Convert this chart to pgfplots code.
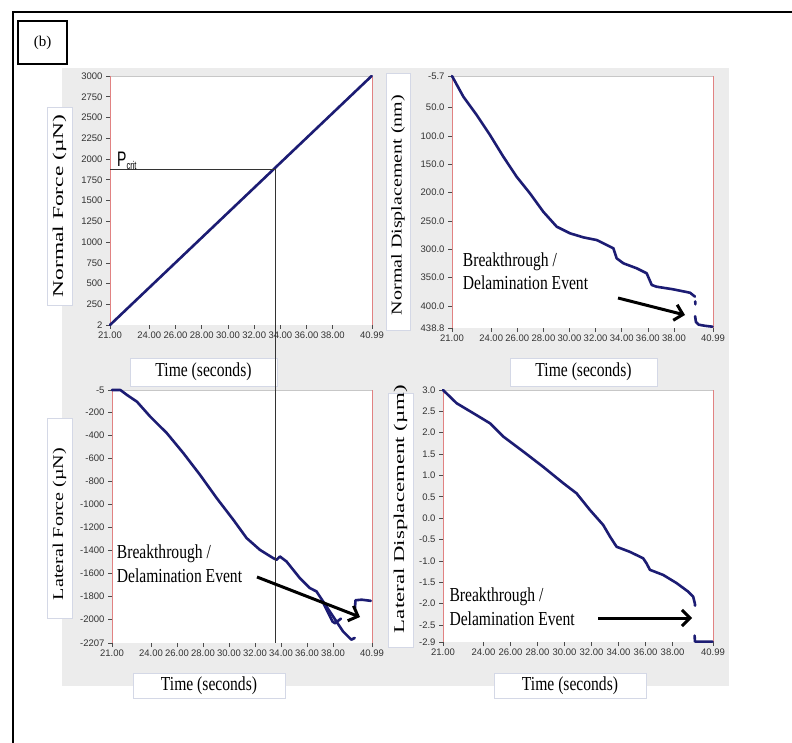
\documentclass[border=0pt]{standalone}
\usepackage{fontspec}
\setmainfont{Liberation Serif}
\newfontfamily\sansf{Liberation Sans}
\usepackage{graphicx}
\usepackage{pgfplots}
\pgfplotsset{compat=1.18}
\usetikzlibrary{arrows.meta}

\definecolor{navy}{RGB}{28,28,115}
\definecolor{axred}{RGB}{225,130,130}
\definecolor{panelgray}{RGB}{236,236,236}
\definecolor{boxedge}{RGB}{212,216,230}

\newcommand{\htext}[1]{\scalebox{1}[1.27]{\fontsize{15.6}{18}\selectfont #1}}
\newcommand{\vtext}[2]{\resizebox{#1}{\height}{\fontsize{15}{18}\selectfont #2}}

\pgfplotsset{
  panel/.style={
    scale only axis,
    anchor=south west,
    enlargelimits=false,
    clip=false,
    axis background/.style={fill=white},
    axis line style={draw=none},
    tick align=outside,
    major tick length=4pt,
    tick style={black!70, line width=0.7pt},
    xtick pos=bottom, ytick pos=left,
    xmin=21, xmax=40.99,
    xtick={21,24,26,28,30,32,34,36,38,40.99},
    xticklabels={21.00,24.00,26.00,28.00,30.00,32.00,34.00,36.00,38.00,40.99},
    ticklabel style={font=\sansf\fontsize{9.5}{10}\selectfont, text=black!80},
    xticklabel style={yshift=1pt},
    /pgf/number format/assume math mode=true,
  },
  curve/.style={navy, line width=2.6pt, line join=round, line cap=round},
}
\newcommand{\panelframe}{%
  \draw[black!22, line width=0.6pt] (rel axis cs:0,1) -- (rel axis cs:1,1);
  \draw[axred, line width=0.8pt] (rel axis cs:0,0) -- (rel axis cs:0,1);
  \draw[axred, line width=0.8pt] (rel axis cs:1,0) -- (rel axis cs:1,1);
}
\tikzset{lbox/.style={fill=white, draw=boxedge, line width=0.6pt},
  arr/.style={line width=3pt, -{Straight Barb[length=8pt,width=16pt,line width=3pt]}}}

\begin{document}
\begin{tikzpicture}
\useasboundingbox (0pt,0pt) rectangle (792pt,742pt);
\fill[white] (0pt,0pt) rectangle (792pt,742pt);
% grey panel
\fill[panelgray] (62pt,56pt) rectangle (729pt,674pt);
% label boxes
\filldraw[lbox] (47pt,437pt) rectangle (72pt,635pt);
\filldraw[lbox] (130pt,356pt) rectangle (277pt,384pt);
\filldraw[lbox] (386pt,412pt) rectangle (410pt,669pt);
\filldraw[lbox] (510pt,356pt) rectangle (657pt,384pt);
\filldraw[lbox] (47pt,124pt) rectangle (72pt,324pt);
\filldraw[lbox] (133pt,44pt) rectangle (285pt,69pt);
\filldraw[lbox] (388pt,95pt) rectangle (413pt,349pt);
\filldraw[lbox] (494pt,44pt) rectangle (646pt,69pt);

\node[rotate=90] at (59.5pt,536pt) {\vtext{183pt}{Normal Force (µN)}};
\node at (203.5pt,370pt) {\htext{Time (seconds)}};
\node[rotate=90] at (398pt,537pt) {\vtext{220pt}{Normal Displacement (nm)}};
\node at (583.5pt,370pt) {\htext{Time (seconds)}};
\node[rotate=90] at (59.5pt,218pt) {\vtext{152pt}{Lateral Force (µN)}};
\node at (209pt,56.5pt) {\htext{Time (seconds)}};
\node[rotate=90] at (400.5pt,233pt) {\vtext{248pt}{Lateral Displacement (µm)}};
\node at (570pt,56.5pt) {\htext{Time (seconds)}};

% ---------- top left: normal force ----------
\begin{axis}[panel, at={(110pt,417pt)}, width=262pt, height=249pt,
  ymin=2, ymax=3000,
  ytick={2,250,500,750,1000,1250,1500,1750,2000,2250,2500,2750,3000},
  yticklabels={2,250,500,750,1000,1250,1500,1750,2000,2250,2500,2750,3000}]
\panelframe
\addplot[curve] coordinates {(21,2) (40.96,3000)};
\draw[black!80, line width=0.8pt] (axis cs:21,1870) -- (axis cs:33.6,1870) -- (axis cs:33.6,2);
\coordinate (pc) at (axis cs:33.6,1870);
\end{axis}

% ---------- top right: normal displacement ----------
\begin{axis}[panel, at={(452pt,414pt)}, width=261pt, height=252pt,
  y dir=reverse, ymin=-5.7, ymax=438.8,
  ytick={-5.7,50,100,150,200,250,300,350,400,438.8},
  yticklabels={-5.7,50.0,100.0,150.0,200.0,250.0,300.0,350.0,400.0,438.8}]
\panelframe
\addplot[curve] coordinates {
(21.00,-5.7) (21.87,30.8) (22.89,63.1) (23.91,98.4) (24.93,136.6) (25.95,172)
(26.97,201.3) (27.99,233.7) (29.02,260.1) (30.04,271.8) (31.06,278.9) (32.08,283.6)
(32.85,292.4) (33.36,298.2) (33.61,315.9) (34.13,324.7) (35.15,333.5) (35.91,342.3)
(36.30,363) (36.68,366) (37.95,370.6) (39.23,376.6) (39.61,383.5)};
\addplot[curve] coordinates {(39.63,392) (39.64,397)};
\addplot[curve] coordinates {(39.62,418) (39.68,428) (39.9,433) (40.4,435) (40.95,436.5)};
\end{axis}

% ---------- bottom left: lateral force ----------
\begin{axis}[panel, at={(112pt,99pt)}, width=260pt, height=253pt,
  ymin=-2207, ymax=-5,
  ytick={-2207,-2000,-1800,-1600,-1400,-1200,-1000,-800,-600,-400,-200,-5},
  yticklabels={-2207,-2000,-1800,-1600,-1400,-1200,-1000,-800,-600,-400,-200,-5}]
\panelframe
\addplot[curve] coordinates {
(21.00,-5) (21.64,-5) (22.15,-48) (22.92,-107) (23.94,-237) (25.22,-381)
(26.49,-555) (27.77,-744) (29.05,-946) (30.33,-1135) (31.35,-1294) (32.37,-1396)
(33.39,-1468) (33.65,-1483) (33.91,-1454) (34.42,-1498) (35.44,-1642) (36.21,-1729)
(36.72,-1758) (37.23,-1845) (38.00,-1976) (38.76,-2106) (39.40,-2178) (39.66,-2163)};
\addplot[curve] coordinates {(37.25,-1860) (37.95,-2020) (38.15,-2035) (38.6,-1995)};
\addplot[curve] coordinates {(39.68,-1905) (39.72,-1835) (40.2,-1830) (40.9,-1840)};
\coordinate (pb) at (axis cs:33.52,-2207);
\end{axis}

% ---------- bottom right: lateral displacement ----------
\begin{axis}[panel, at={(443pt,100pt)}, width=270pt, height=252pt,
  ymin=-2.9, ymax=3.0,
  ytick={-2.9,-2.5,-2,-1.5,-1,-0.5,0,0.5,1,1.5,2,2.5,3},
  yticklabels={-2.9,-2.5,-2.0,-1.5,-1.0,-0.5,0.0,0.5,1.0,1.5,2.0,2.5,3.0}]
\panelframe
\addplot[curve] coordinates {
(21.00,3.00) (22.01,2.69) (23.49,2.41) (24.48,2.22) (25.46,1.91) (26.94,1.56)
(28.42,1.20) (29.90,0.82) (30.89,0.58) (31.88,0.19) (32.86,-0.16) (33.36,-0.43)
(33.85,-0.67) (34.84,-0.79) (35.82,-0.94) (36.07,-1.06) (36.32,-1.21) (37.30,-1.33)
(38.29,-1.52) (39.15,-1.72) (39.52,-1.84) (39.65,-2.00) (39.66,-2.05)};
\addplot[curve] coordinates {(39.63,-2.75) (39.65,-2.89) (40.2,-2.89) (40.95,-2.89)};
\end{axis}

% P_crit vertical line continuing into lower panel
\draw[black!80, line width=0.8pt] (pc) -- (pc |- pb);
\node[anchor=base west, inner sep=0pt] at (117pt,575pt)
  {\scalebox{1}[1.5]{\sansf\fontsize{14}{14}\selectfont P\raisebox{-1.5pt}{\fontsize{7.5}{8}\selectfont crit}}};

% annotations
\node[anchor=base west, inner sep=0pt] at (462.7pt,475.3pt) {\htext{Breakthrough /}};
\node[anchor=base west, inner sep=0pt] at (462.7pt,452pt) {\htext{Delamination Event}};
\node[anchor=base west, inner sep=0pt] at (116.7pt,183.7pt) {\htext{Breakthrough /}};
\node[anchor=base west, inner sep=0pt] at (116.7pt,159.7pt) {\htext{Delamination Event}};
\node[anchor=base west, inner sep=0pt] at (449.3pt,140.3pt) {\htext{Breakthrough /}};
\node[anchor=base west, inner sep=0pt] at (449.3pt,117pt) {\htext{Delamination Event}};

\draw[arr] (618pt,444pt) -- (685pt,427pt);
\draw[arr] (257pt,165pt) -- (360pt,125pt);
\draw[arr] (598pt,124pt) -- (692pt,124pt);

% (b) box and outer frame
\draw[line width=1.6pt] (18pt,678pt) rectangle (67pt,721pt);
\node at (42.5pt,699.5pt) {\fontsize{15}{15}\selectfont (b)};
\draw[line width=2pt] (13pt,-30pt) rectangle (830pt,730pt);
\end{tikzpicture}
\end{document}
